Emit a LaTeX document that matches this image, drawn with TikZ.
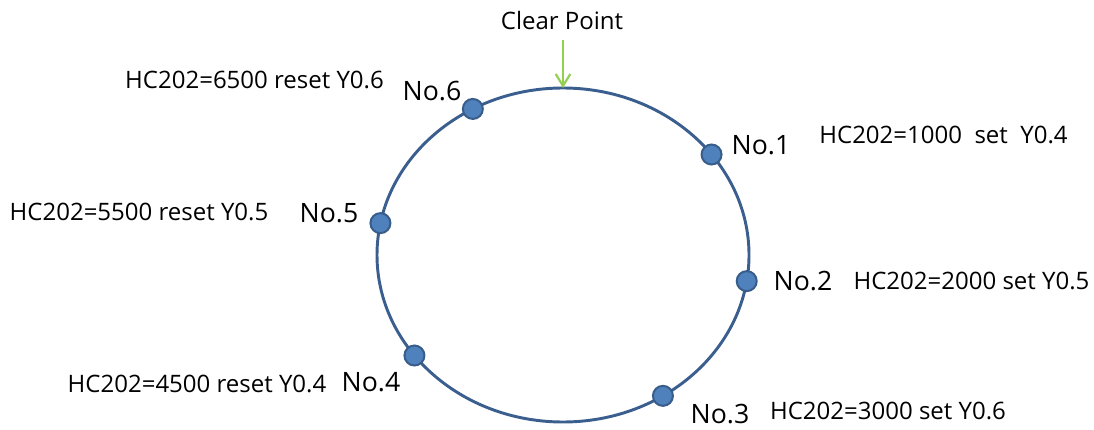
\documentclass[tikz,border=0pt]{standalone}
\usepackage{fontspec}
\setmainfont{Open Sans}
\usetikzlibrary{arrows.meta}
\definecolor{ringblue}{HTML}{3A5F8F}
\definecolor{dotfill}{HTML}{4F81BD}
\definecolor{dotline}{HTML}{385D8A}
\definecolor{arrowgreen}{HTML}{92D050}
\tikzset{
  ring/.style={draw=ringblue,line width=2.2pt},
  dotnode/.style={circle,fill=dotfill,draw=dotline,line width=1.5pt,minimum size=15pt,inner sep=0pt},
  numlabel/.style={font=\fontsize{20pt}{24pt}\selectfont,inner sep=0pt},
  hclabel/.style={font=\fontsize{18pt}{21pt}\selectfont,inner sep=0pt},
  cleararrow/.style={draw=arrowgreen,line width=1.6pt,-{Straight Barb[length=9pt,width=11pt,line width=1.6pt]}}
}
\begin{document}
\begin{tikzpicture}[x=0.75pt,y=0.75pt]
\useasboundingbox (0,0) rectangle (1094,429);
\coordinate (c) at (563,174);
\draw[ring] (c) ellipse [x radius=139.5pt, y radius=125.25pt];
\coordinate (top) at ([shift={(90:139.5pt and 125.25pt)}]c);
\node[dotnode] (d1) at ([shift={(37:139.5pt and 125.25pt)}]c) {};
\node[dotnode] (d2) at ([shift={(-9:139.5pt and 125.25pt)}]c) {};
\node[dotnode] (d3) at ([shift={(-57.5:139.5pt and 125.25pt)}]c) {};
\node[dotnode] (d4) at ([shift={(-143:139.5pt and 125.25pt)}]c) {};
\node[dotnode] (d5) at ([shift={(169:139.5pt and 125.25pt)}]c) {};
\node[dotnode] (d6) at ([shift={(119:139.5pt and 125.25pt)}]c) {};
\node[hclabel] (clear) at (562,408) {Clear Point};
\coordinate (arrowstart) at (563,389);
\draw[cleararrow] (arrowstart) -- (top);
\node[numlabel] (n6) at (432,338) {No.6};
\node[numlabel] (n1) at (761,284) {No.1};
\node[numlabel] (n5) at (329,216) {No.5};
\node[numlabel] (n2) at (803,148) {No.2};
\node[numlabel] (n4) at (371,47) {No.4};
\node[numlabel] (n3) at (720,15) {No.3};
\node[hclabel] (h6) at (254.5,349) {HC202=6500 reset Y0.6};
\node[hclabel] (h1) at (943.5,294) {HC202=1000\ \ set\ \ Y0.4};
\node[hclabel] (h5) at (139,217) {HC202=5500 reset Y0.5};
\node[hclabel] (h2) at (971.5,148) {HC202=2000 set Y0.5};
\node[hclabel] (h4) at (197,45) {HC202=4500 reset Y0.4};
\node[hclabel] (h3) at (888,18) {HC202=3000 set Y0.6};
\end{tikzpicture}
\end{document}
